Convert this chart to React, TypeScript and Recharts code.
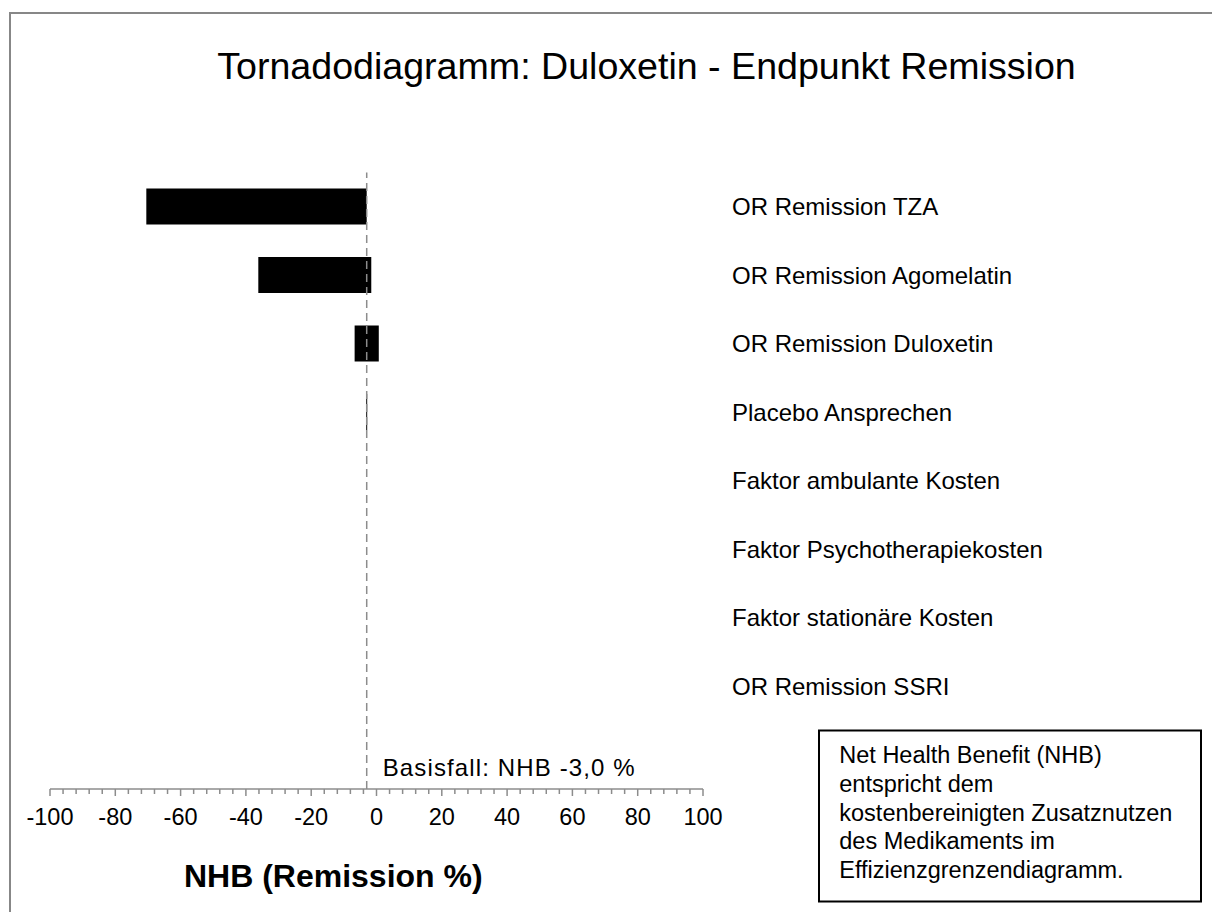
import React from "react"
import { BarChart, Bar, XAxis, YAxis, ReferenceLine } from "recharts"

const FONT = "'Liberation Sans', Arial, sans-serif"

// parameters, top to bottom; the last entry is an empty row below the bars
const parameters = [
    "OR Remission TZA",
    "OR Remission Agomelatin",
    "OR Remission Duloxetin",
    "Placebo Ansprechen",
    "Faktor ambulante Kosten",
    "Faktor Psychotherapiekosten",
    "Faktor stationäre Kosten",
    "OR Remission SSRI",
    "",
]
const lowValues = [-70.5, -36.2, -6.7, -3.15, -3.0, -3.0, -3.0, -3.0, null]
const highValues = [-3.0, -1.6, 0.7, -2.85, -3.0, -3.0, -3.0, -3.0, null]

const baseCase = -3.0
const majorTicks = [-100, -80, -60, -40, -20, 0, 20, 40, 60, 80, 100]
const minorPerMajor = 5

const allTicks: number[] = []
majorTicks.forEach((t, i) => {
    allTicks.push(t)
    if (i < majorTicks.length - 1) {
        const step = (majorTicks[i + 1] - t) / minorPerMajor
        for (let k = 1; k < minorPerMajor; k++) allTicks.push(t + k * step)
    }
})

const data = parameters.map((name, i) => ({
    name,
    range: lowValues[i] === null ? null : [lowValues[i], highValues[i]],
}))

const noteLines = [
    "Net Health Benefit (NHB)",
    "entspricht dem",
    "kostenbereinigten Zusatznutzen",
    "des Medikaments im",
    "Effizienzgrenzendiagramm.",
]

const AxisTick = (props: any) => {
    const { x, y, payload } = props
    const major = majorTicks.includes(payload.value)
    return (
        <g>
            <line x1={x} x2={x} y1={y} y2={y + (major ? 7 : 5)} stroke="#8c8c8c" strokeWidth={1.5} />
            {major && (
                <text x={x} y={y + 19} dy="0.71em" textAnchor="middle" fontSize={23.5} fill="#000" fontFamily={FONT}>
                    {payload.value}
                </text>
            )}
        </g>
    )
}

export default function App() {
    return (
        <div
            style={{
                position: "absolute",
                left: 0,
                top: 0,
                width: 1212,
                height: 912,
                overflow: "hidden",
                background: "#fff",
                fontFamily: FONT,
            }}
        >
            <div
                style={{
                    position: "absolute",
                    left: 9,
                    top: 12,
                    width: 1230,
                    height: 930,
                    border: "2px solid #878787",
                }}
            />
            <div style={{ position: "absolute", left: 0, top: 0 }}>
                <BarChart
                    width={1212}
                    height={912}
                    data={data}
                    layout="vertical"
                    margin={{ top: 172.5, right: 29, bottom: 93, left: 50 }}
                >
                    <XAxis
                        type="number"
                        domain={[-100, 100]}
                        ticks={allTicks}
                        interval={0}
                        height={30}
                        axisLine={{ stroke: "#8c8c8c", strokeWidth: 1.5 }}
                        tickLine={false}
                        tickSize={0}
                        tickMargin={0}
                        tick={<AxisTick />}
                    />
                    <YAxis
                        type="category"
                        dataKey="name"
                        orientation="right"
                        width={480}
                        interval={0}
                        axisLine={false}
                        tickLine={false}
                        tickSize={0}
                        tickMargin={29}
                        tick={{ fill: "#000", fontSize: 24, fontFamily: FONT }}
                    />
                    <Bar dataKey="range" fill="#000" barSize={36} isAnimationActive={false} />
                    <ReferenceLine x={baseCase} stroke="#8c8c8c" strokeWidth={1.5} strokeDasharray="8 5" />
                </BarChart>
            </div>
            <svg
                width={1212}
                height={912}
                style={{ position: "absolute", left: 0, top: 0, pointerEvents: "none" }}
                fontFamily={FONT}
            >
                <text x={646.5} y={79.3} textAnchor="middle" fontSize={37.6} fill="#000">
                    Tornadodiagramm: Duloxetin - Endpunkt Remission
                </text>
                <text x={382.7} y={776} fontSize={24} fill="#000" textLength={252} lengthAdjust="spacing">
                    Basisfall: NHB -3,0 %
                </text>
                <text x={333.3} y={886.7} textAnchor="middle" fontSize={32} fontWeight="bold" fill="#000">
                    NHB (Remission %)
                </text>
                <rect x={819} y={730.5} width={382} height={171} fill="#fff" stroke="#000" strokeWidth={2} />
                {noteLines.map((line, i) => (
                    <text key={i} x={839.3} y={762.7 + i * 28.9} fontSize={23.5} fill="#000">
                        {line}
                    </text>
                ))}
            </svg>
        </div>
    )
}
